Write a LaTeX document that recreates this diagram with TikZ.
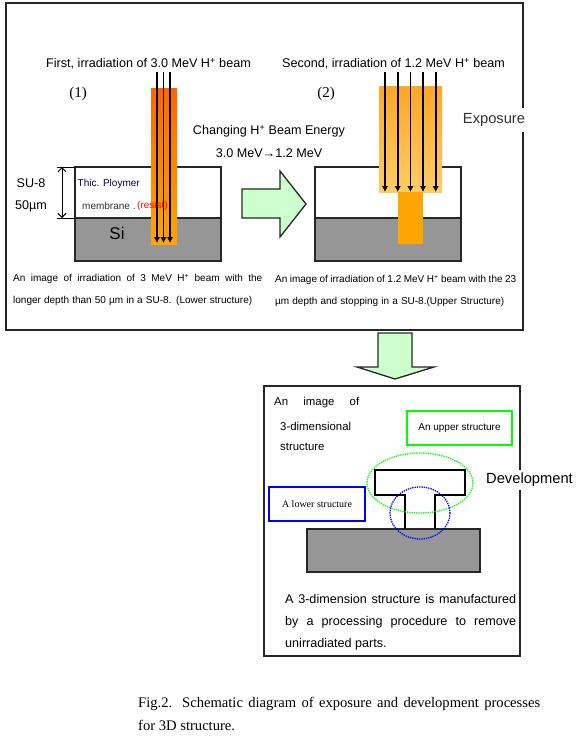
\documentclass[tikz,border=0pt]{standalone}
\usepackage{fontspec}
\setmainfont{Liberation Sans}
\newfontfamily\capface{Liberation Serif}
\usetikzlibrary{arrows.meta,calc}
\definecolor{sigray}{HTML}{969696}
\definecolor{palegreen}{HTML}{CCFFCC}
\definecolor{beamhot}{HTML}{FF6600}
\definecolor{beammid}{HTML}{FFA500}
\definecolor{beamtop}{HTML}{FFA726}
\definecolor{beamlow}{HTML}{FFCC66}
\newcommand{\fs}[1]{\fontsize{#1}{#1}\selectfont}
\newcommand{\fitline}[2]{\makebox[#1pt][s]{#2}}
\tikzset{
 frame/.style={draw=black!85,line width=1.3pt,fill=white},
 body/.style={draw=black!85,line width=1.3pt},
 beamline/.style={line width=1.6pt,-{Latex[length=6pt,width=6.5pt]}},
 lbl/.style={inner sep=0pt,anchor=west,yshift=-1pt},
 smalltxt/.style={lbl,font=\fs{10}},
 big/.style={inner sep=0pt,yshift=-1pt,font=\fs{12.6}},
 gap/.style={fill=white,inner xsep=1pt,inner ysep=5pt,font=\fs{14.7}}
}
\begin{document}
\begin{tikzpicture}[x=1pt,y=-1pt]
 \useasboundingbox (0,0) rectangle (578,739);
 % exposure panel
 \draw[frame] (6,3) rectangle (523,330);
 \node[gap,text=black!80] (exposure) at (494,120) {Exposure};
 \node[big] (first) at (148.5,63) {First, irradiation of 3.0 MeV H\textsuperscript{+} beam};
 \node[big] (second) at (393.5,63) {Second, irradiation of 1.2 MeV H\textsuperscript{+} beam};
 \node[inner sep=0pt,font=\capface\fs{15}] (stepa) at (78,94) {(1)};
 \node[inner sep=0pt,font=\capface\fs{15}] (stepb) at (326,94) {(2)};
 \node[big] (changing) at (269,130) {Changing H\textsuperscript{+} Beam Energy};
 \node[big] (energy) at (269,152) {3.0 MeV→1.2 MeV};
 % left sample
 \draw[body,fill=white] (75,167) rectangle (221,218);
 \draw[body,fill=sigray] (75,218) rectangle (221,261);
 \shade[top color=beamhot,bottom color=beammid] (151,88) rectangle (177,244);
 \foreach \x in {157,163.5,170}{\draw[beamline] (\x,72)--(\x,243);}
 \coordinate (dimtop) at (62,167);\coordinate (dimbot) at (62,218);
 \draw[line width=1pt] (57,167)--(75,167) (57,218)--(75,218);
 \draw[line width=1pt,{Straight Barb[length=4pt,width=8pt]}-{Straight Barb[length=4pt,width=8pt]}] (dimtop)--(dimbot);
 \node[big] (sua) at (31,182) {SU-8};
 \node[big] (sub) at (31,205) {50µm};
 \node[inner sep=0pt,font=\fs{17}] (si) at (117,233) {Si};
 \node[smalltxt,text=blue!30!black] (thic) at (77.5,183) {Thic. Ploymer};
 \node[smalltxt,text=black!80] (membrane) at (82,205) {membrane .};
 \node[smalltxt,text=red] (resist) at (137,205) {(resist)};
 % right sample
 \draw[body,fill=white] (315,167) rectangle (461,218);
 \draw[body,fill=sigray] (315,218) rectangle (461,261);
 \shade[top color=beamtop,bottom color=beamlow] (379,86) rectangle (442,192);
 \fill[beammid] (398,192) rectangle (423,244);
 \foreach \x in {385,397.7,410.4,423,435.7}{\draw[beamline] (\x,72)--(\x,192);}
 % arrow between the samples
 \draw[body,fill=palegreen] (242,189)--(280,189)--(280,171)--(306,204)--(280,237)--(280,218)--(242,218)--cycle;
 \node[smalltxt] (capa) at (13,278) {\fitline{249}{An image of irradiation of 3 MeV H\textsuperscript{+} beam with the}};
 \node[smalltxt] (capb) at (13,300) {\fitline{239}{longer depth than 50 µm in a SU-8. (Lower structure)}};
 \node[smalltxt] (capc) at (275,279) {\fitline{241}{An image of irradiation of 1.2 MeV H\textsuperscript{+} beam with the 23}};
 \node[smalltxt] (capd) at (275,301) {\fitline{229}{µm depth and stopping in a SU-8.(Upper Structure)}};
 % arrow down to development
 \draw[body,fill=palegreen] (378,333)--(412,333)--(412,367)--(434,367)--(395,379)--(357,367)--(378,367)--cycle;
 % development panel
 \draw[frame] (264,386) rectangle (520,656);
 \node[gap,inner ysep=3pt] (development) at (529.5,480) {Development};
 \node[lbl,font=\fs{11.4}] (imga) at (274,402) {\fitline{85}{An image of}};
 \node[lbl,font=\fs{11.4}] (imgb) at (280,425) {3-dimensional};
 \node[lbl,font=\fs{11.4}] (imgc) at (280,446) {structure};
 \node[draw=green,line width=1.8pt,minimum width=105pt,minimum height=34pt,font=\fs{10}] (upper) at (459.5,428) {An upper structure};
 \node[draw=blue,line width=1.8pt,minimum width=96pt,minimum height=34pt,font=\capface\fs{10}] (lower) at (317,504) {A lower structure};
 \draw[body,fill=sigray] (307,529) rectangle (480,572);
 \draw[line width=2.2pt,line join=miter] (405,529)--(405,495)--(375,495)--(375,470)--(465,470)--(465,495)--(435,495)--(435,529);
 \draw[green,line width=1.3pt,densely dotted] (420,483) ellipse (53 and 30);
 \draw[blue,line width=1.3pt,densely dotted] (420,513) ellipse (30 and 26);
 \node[big,lbl] (resa) at (285,597) {\fitline{231}{A 3-dimension structure is manufactured}};
 \node[big,lbl] (resb) at (285,620) {\fitline{231}{by a processing procedure to remove}};
 \node[big,lbl] (resc) at (285,642) {unirradiated parts.};
 % figure caption
 \node[lbl,font=\capface\fs{14.6}] (figa) at (138,703) {\fitline{402}{Fig.2. Schematic diagram of exposure and development processes}};
 \node[lbl,font=\capface\fs{14.6}] (figb) at (138,724) {for 3D structure.};
\end{tikzpicture}
\end{document}
